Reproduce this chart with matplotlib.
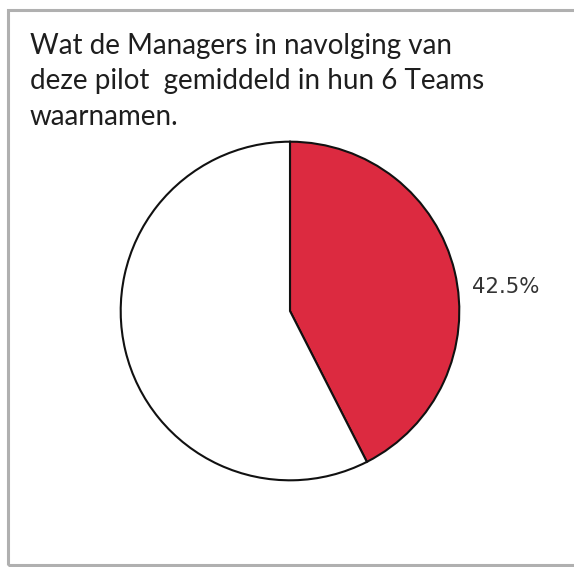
import matplotlib
matplotlib.use("Agg")
import matplotlib.pyplot as plt
from matplotlib.patches import Rectangle

title_lines = ["Wat de Managers in navolging van",
               "deze pilot  gemiddeld in hun 6 Teams",
               "waarnamen."]
labels = ["Ja", "Nee"]
values = [42.5, 57.5]
colors = ["#DC2A40", "#FFFFFF"]

W, H = 574, 567
fig = plt.figure(figsize=(W / 100, H / 100), dpi=100)
fig.patch.set_facecolor("white")

# gray frame
fig.patches.append(Rectangle((8 / W, (H - 565) / H), (W + 10 - 8) / W, (565 - 10) / H,
                             transform=fig.transFigure, fill=False,
                             edgecolor="#B0B0B0", linewidth=2.2, zorder=0))

for i, line in enumerate(title_lines):
    fig.text(30 / W, 1 - (54 + 35.5 * i) / H, line, ha="left", va="baseline", fontsize=20,
             family="Lato", color="#1E1E1E")

cx, cy, r = 290, 311, 171
ax = fig.add_axes([(cx - r) / W, (H - cy - r) / H, 2 * r / W, 2 * r / H])
wedges, texts = ax.pie(values, colors=colors, startangle=90, counterclock=False,
                       radius=1,
                       wedgeprops=dict(edgecolor="#111111", linewidth=1.5))
pct = f"{values[0]:.1f}%"
ax.text(1.075, 0.14, pct, ha="left", va="center", fontsize=15.3,
        color="#333333", family="DejaVu Sans")
ax.set_xlim(-1.01, 1.01)
ax.set_ylim(-1.01, 1.01)
ax.set_aspect("equal")
ax.axis("off")

fig.savefig("out.png", dpi=100)
